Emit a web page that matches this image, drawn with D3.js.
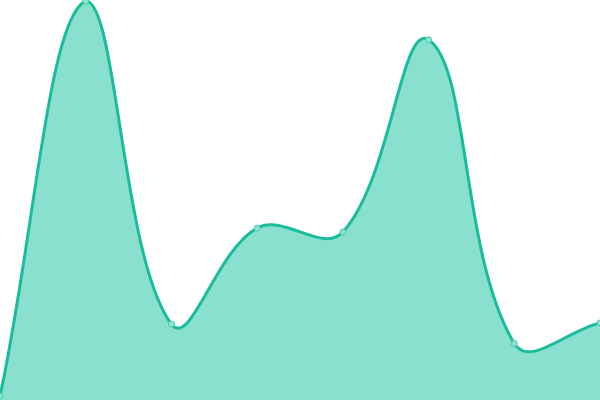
<!DOCTYPE html>
<html>
<head>
<meta charset="utf-8">
<script src="https://cdn.jsdelivr.net/npm/d3@7"></script>
<style>
  html, body { margin: 0; padding: 0; background: #fff; }
  svg { display: block; }
</style>
</head>
<body>
<div id="chart"></div>
<script>
// data
const labels = ["A", "B", "C", "D", "E", "F", "G", "H"];
const values = [0, 100, 18.2, 42.5, 41.5, 90.2, 13.3, 18.5];

const width = 600;
const height = 400;

// spline with tension, control points weighted by segment length,
// clamped to the drawing area
function TensionSpline(context, tension) {
  this._context = context;
  this._tension = tension;
}
TensionSpline.prototype = {
  areaStart() { this._line = 0; },
  areaEnd() { this._line = NaN; },
  lineStart() { this._pts = []; },
  point(x, y) { this._pts.push([+x, +y]); },
  lineEnd() {
    const p = this._pts, n = p.length, c = this._context, t = this._tension;
    const clampX = v => Math.max(0, Math.min(width, v));
    const clampY = v => Math.max(0, Math.min(height, v));
    if (n) {
      if (this._line) c.lineTo(p[0][0], p[0][1]);
      else c.moveTo(p[0][0], p[0][1]);
      const cps = p.map((cur, i) => {
        const prev = p[Math.max(i - 1, 0)];
        const next = p[Math.min(i + 1, n - 1)];
        const d01 = Math.hypot(cur[0] - prev[0], cur[1] - prev[1]);
        const d12 = Math.hypot(next[0] - cur[0], next[1] - cur[1]);
        let s01 = d01 / (d01 + d12), s12 = d12 / (d01 + d12);
        if (isNaN(s01)) s01 = 0;
        if (isNaN(s12)) s12 = 0;
        const fa = t * s01, fb = t * s12;
        const vx = next[0] - prev[0], vy = next[1] - prev[1];
        return {
          a: [clampX(cur[0] - fa * vx), clampY(cur[1] - fa * vy)],
          b: [clampX(cur[0] + fb * vx), clampY(cur[1] + fb * vy)]
        };
      });
      for (let i = 1; i < n; i++) {
        c.bezierCurveTo(cps[i - 1].b[0], cps[i - 1].b[1], cps[i].a[0], cps[i].a[1], p[i][0], p[i][1]);
      }
    }
    if (this._line || (this._line !== 0 && n === 1)) c.closePath();
    this._line = 1 - this._line;
  }
};
const curve = ctx => new TensionSpline(ctx, 0.4);

const svg = d3.select("#chart")
  .append("svg")
  .attr("width", width)
  .attr("height", height);

const x = d3.scalePoint().domain(labels).range([0, width]);
const y = d3.scaleLinear().domain([0, 100]).range([396, 1]);

const area = d3.area()
  .x((d, i) => x(labels[i]))
  .y0(height)
  .y1(d => y(d))
  .curve(curve);

const line = d3.line()
  .x((d, i) => x(labels[i]))
  .y(d => y(d))
  .curve(curve);

// filled area
svg.append("path")
  .datum(values)
  .attr("d", area)
  .attr("fill", "#89e0cf");

// outline
svg.append("path")
  .datum(values)
  .attr("d", line)
  .attr("fill", "none")
  .attr("stroke", "#1abc9c")
  .attr("stroke-width", 3);

// points
svg.append("g").attr("class", "points")
  .selectAll("circle")
  .data(values)
  .join("circle")
  .attr("cx", (d, i) => x(labels[i]))
  .attr("cy", d => y(d))
  .attr("r", 3)
  .attr("fill", "#8de2d1")
  .attr("stroke", "#48c9b0")
  .attr("stroke-width", 1);
</script>
</body>
</html>
